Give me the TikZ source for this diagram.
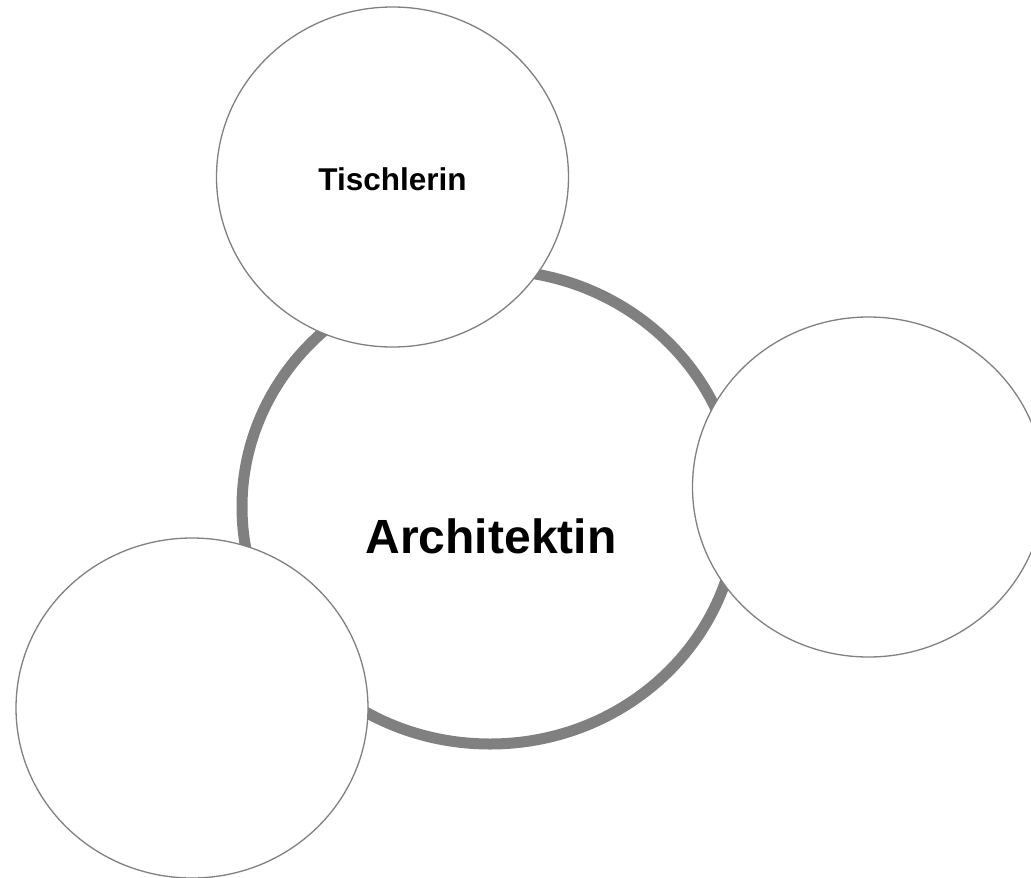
\documentclass[tikz,border=0pt]{standalone}
\usepackage{fontspec}
\setmainfont{Liberation Sans}
\usetikzlibrary{shapes.geometric}
\definecolor{ringgray}{RGB}{128,128,128}
\begin{document}
\begin{tikzpicture}[x=1pt,y=-1pt,
  hub/.style={ellipse,draw=ringgray,fill=white,line width=11pt,inner sep=0pt,
    minimum width=496pt,minimum height=474pt},
  sat/.style={ellipse,draw=ringgray,fill=white,line width=1.3pt,inner sep=0pt,
    minimum width=352pt,minimum height=340pt},
  lbl/.style={font=\bfseries,text=black,anchor=base,inner sep=0pt}]
\useasboundingbox (0,0) rectangle (1031,878);
\node[hub] (hub) at (490,507) {};
\node[sat] (top) at (392.5,177) {};
\node[sat] (right) at (868.5,487) {};
\node[sat] (left) at (192,708) {};
\node[lbl,font=\fontsize{48}{50}\selectfont\bfseries] (hubtext) at (491,553) {Architektin};
\node[lbl,font=\fontsize{31.5}{34}\selectfont\bfseries] (toptext) at (392.5,190) {Tischlerin};
\end{tikzpicture}
\end{document}
